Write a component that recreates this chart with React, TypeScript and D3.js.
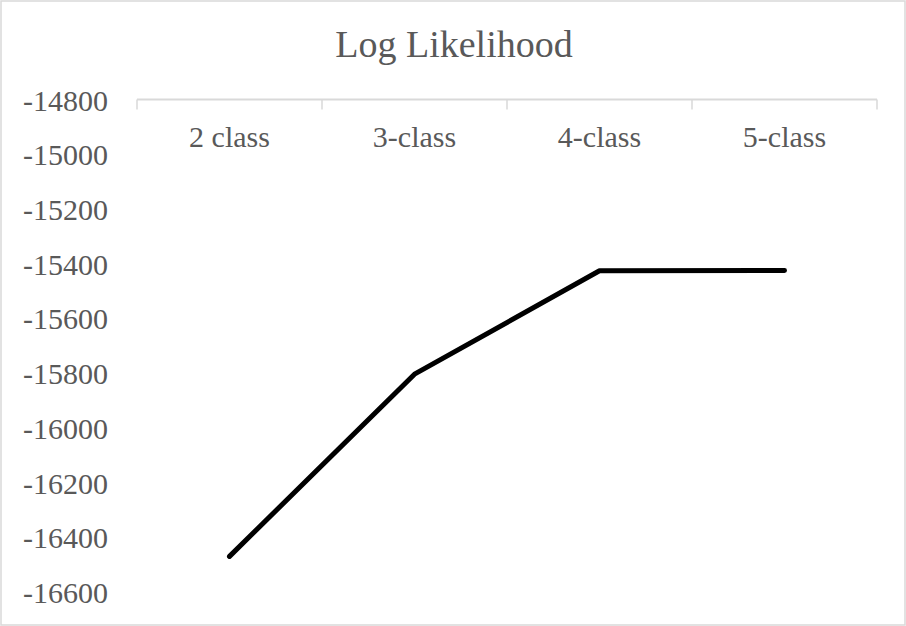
import React from "react";
import * as d3 from "d3";

const categories = ["2 class", "3-class", "4-class", "5-class"];
const logLikelihood = [-16468, -15802, -15424, -15423];
const yTicks = [-14800, -15000, -15200, -15400, -15600, -15800, -16000, -16200, -16400, -16600];
const title = "Log Likelihood";

const W = 906;
const H = 626;
const FONT = "Liberation Serif, Times New Roman, DejaVu Serif, serif";
const TEXT = "#595959";
const AXIS = "#d9d9d9";

export default function App() {
  const x = d3.scaleBand<string>().domain(categories).range([137, 877]).paddingInner(0).paddingOuter(0);
  const y = d3.scaleLinear().domain([-16600, -14800]).range([592.5, 100]);
  const line = d3
    .line<number>()
    .x((_, i) => (x(categories[i]) as number) + x.bandwidth() / 2)
    .y((d) => y(d));

  const boundaries = [...categories.map((c) => x(c) as number), x.range()[1]];
  const axisY = y(-14800) - 0.5;
  const ts = { fontFamily: FONT };

  return (
    <svg width={W} height={H} style={{ position: "absolute", left: 0, top: 0, background: "#fff" }}>
      <rect x={1} y={1} width={W - 2} height={H - 2} fill="#fff" stroke={AXIS} strokeWidth={1.5} />
      <text x={454} y={57} textAnchor="middle" fontSize={38} fill={TEXT} style={ts}>
        {title}
      </text>
      {yTicks.map((t) => (
        <text key={t} x={108} y={y(t)} dy="0.35em" textAnchor="end" fontSize={30} fill={TEXT} style={ts}>
          {t}
        </text>
      ))}
      <line x1={x.range()[0]} x2={x.range()[1]} y1={axisY} y2={axisY} stroke={AXIS} strokeWidth={2} />
      {boundaries.map((b, i) => (
        <line key={i} x1={b} x2={b} y1={axisY} y2={axisY + 10} stroke={AXIS} strokeWidth={1.5} />
      ))}
      {categories.map((c) => (
        <text
          key={c}
          x={(x(c) as number) + x.bandwidth() / 2}
          y={147}
          textAnchor="middle"
          fontSize={30}
          fill={TEXT}
          style={ts}
        >
          {c}
        </text>
      ))}
      <path
        d={line(logLikelihood) || ""}
        fill="none"
        stroke="#000"
        strokeWidth={5}
        strokeLinecap="round"
        strokeLinejoin="round"
      />
    </svg>
  );
}
